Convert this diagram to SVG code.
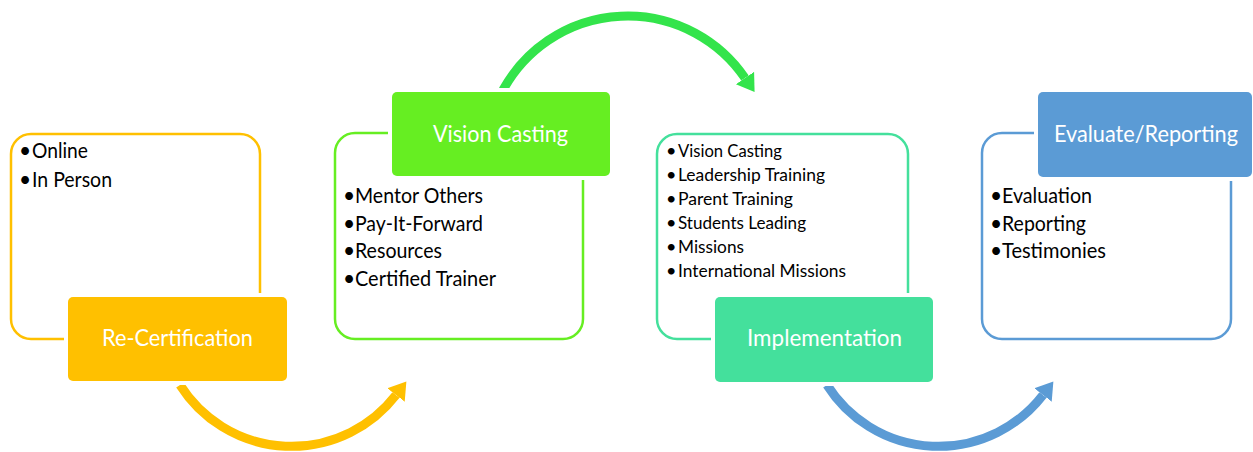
<svg xmlns="http://www.w3.org/2000/svg" width="1253" height="452" viewBox="0 0 1253 452">
<style>
.frame{fill:none;stroke-width:2.5}
.gap{fill:#ffffff}
.title{font-family:Lato,"Liberation Sans",sans-serif;font-size:24px;fill:#ffffff;text-anchor:middle}
.b{font-family:Lato,"Liberation Sans",sans-serif;font-size:21px;fill:#000000}
.s{font-family:Lato,"Liberation Sans",sans-serif;font-size:18px;fill:#000000}
.arc{fill:none;stroke-width:9}
</style>
<defs>
<marker id="ahY" markerUnits="userSpaceOnUse" markerWidth="20" markerHeight="24" viewBox="0 -12 20 24" refX="0" refY="0" orient="auto"><path d="M0,-11 L17,0 L0,11 Z" fill="#FFC000"/></marker>
<marker id="ahG" markerUnits="userSpaceOnUse" markerWidth="20" markerHeight="24" viewBox="0 -12 20 24" refX="0" refY="0" orient="auto"><path d="M0,-11 L17,0 L0,11 Z" fill="#33E44B"/></marker>
<marker id="ahB" markerUnits="userSpaceOnUse" markerWidth="20" markerHeight="24" viewBox="0 -12 20 24" refX="0" refY="0" orient="auto"><path d="M0,-11 L17,0 L0,11 Z" fill="#5B9BD5"/></marker>
</defs>
<rect width="1253" height="452" fill="#ffffff"/>
<g id="connectors">
<path class="arc" stroke="#FFC000" d="M180 385 A132 132 0 0 0 396 395" marker-end="url(#ahY)"/>
<path class="arc" stroke="#33E44B" d="M503 90 A142 142 0 0 1 745 78" marker-end="url(#ahG)"/>
<path class="arc" stroke="#5B9BD5" d="M827 385 A132 132 0 0 0 1043 395" marker-end="url(#ahB)"/>
</g>
<g id="recertification">
<rect class="frame" stroke="#FFC000" x="11" y="134" width="249" height="205" rx="20"/>
<rect class="gap" x="64" y="293" width="227" height="92"/>
<rect x="68" y="297" width="219" height="84" rx="5" fill="#FFC000"/>
<text class="title" x="177.5" y="346" textLength="151" lengthAdjust="spacingAndGlyphs">Re-Certification</text>
<text class="b" x="19" y="158">•</text><text class="b" x="32" y="158" textLength="56" lengthAdjust="spacingAndGlyphs">Online</text>
<text class="b" x="19" y="187">•</text><text class="b" x="32" y="187" textLength="80" lengthAdjust="spacingAndGlyphs">In Person</text>
</g>
<g id="visioncasting">
<rect class="frame" stroke="#66EE22" x="335" y="133" width="248" height="206" rx="20"/>
<rect class="gap" x="388" y="88" width="226" height="92"/>
<rect x="392" y="92" width="218" height="84" rx="5" fill="#66EE22"/>
<text class="title" x="500.5" y="142" textLength="135" lengthAdjust="spacingAndGlyphs">Vision Casting</text>
<text class="b" x="343" y="203">•</text><text class="b" x="355" y="203" textLength="128" lengthAdjust="spacingAndGlyphs">Mentor Others</text>
<text class="b" x="343" y="231">•</text><text class="b" x="355" y="231" textLength="128" lengthAdjust="spacingAndGlyphs">Pay-It-Forward</text>
<text class="b" x="343" y="258">•</text><text class="b" x="355" y="258" textLength="87" lengthAdjust="spacingAndGlyphs">Resources</text>
<text class="b" x="343" y="286">•</text><text class="b" x="355" y="286" textLength="141" lengthAdjust="spacingAndGlyphs">Certified Trainer</text>
</g>
<g id="implementation">
<rect class="frame" stroke="#44E09C" x="657" y="134" width="251" height="205" rx="20"/>
<rect class="gap" x="711" y="293" width="226" height="93"/>
<rect x="715" y="297" width="218" height="85" rx="5" fill="#44E09C"/>
<text class="title" x="824.5" y="346" textLength="155" lengthAdjust="spacingAndGlyphs">Implementation</text>
<text class="s" x="666" y="157">•</text><text class="s" x="678" y="157" textLength="104" lengthAdjust="spacingAndGlyphs">Vision Casting</text>
<text class="s" x="666" y="181">•</text><text class="s" x="678" y="181" textLength="147" lengthAdjust="spacingAndGlyphs">Leadership Training</text>
<text class="s" x="666" y="205">•</text><text class="s" x="678" y="205" textLength="115" lengthAdjust="spacingAndGlyphs">Parent Training</text>
<text class="s" x="666" y="229">•</text><text class="s" x="678" y="229" textLength="128" lengthAdjust="spacingAndGlyphs">Students Leading</text>
<text class="s" x="666" y="253">•</text><text class="s" x="678" y="253" textLength="66" lengthAdjust="spacingAndGlyphs">Missions</text>
<text class="s" x="666" y="277">•</text><text class="s" x="678" y="277" textLength="168" lengthAdjust="spacingAndGlyphs">International Missions</text>
</g>
<g id="evaluatereporting">
<rect class="frame" stroke="#5B9BD5" x="982" y="133" width="249" height="206" rx="20"/>
<rect class="gap" x="1034" y="88" width="219" height="93"/>
<rect x="1038" y="92" width="214" height="85" rx="5" fill="#5B9BD5"/>
<text class="title" x="1146" y="142" style="font-size:23px" textLength="184" lengthAdjust="spacingAndGlyphs">Evaluate/Reporting</text>
<text class="b" x="990" y="203">•</text><text class="b" x="1002" y="203" textLength="90" lengthAdjust="spacingAndGlyphs">Evaluation</text>
<text class="b" x="990" y="231">•</text><text class="b" x="1002" y="231" textLength="84" lengthAdjust="spacingAndGlyphs">Reporting</text>
<text class="b" x="990" y="258">•</text><text class="b" x="1002" y="258" textLength="104" lengthAdjust="spacingAndGlyphs">Testimonies</text>
</g>
</svg>
